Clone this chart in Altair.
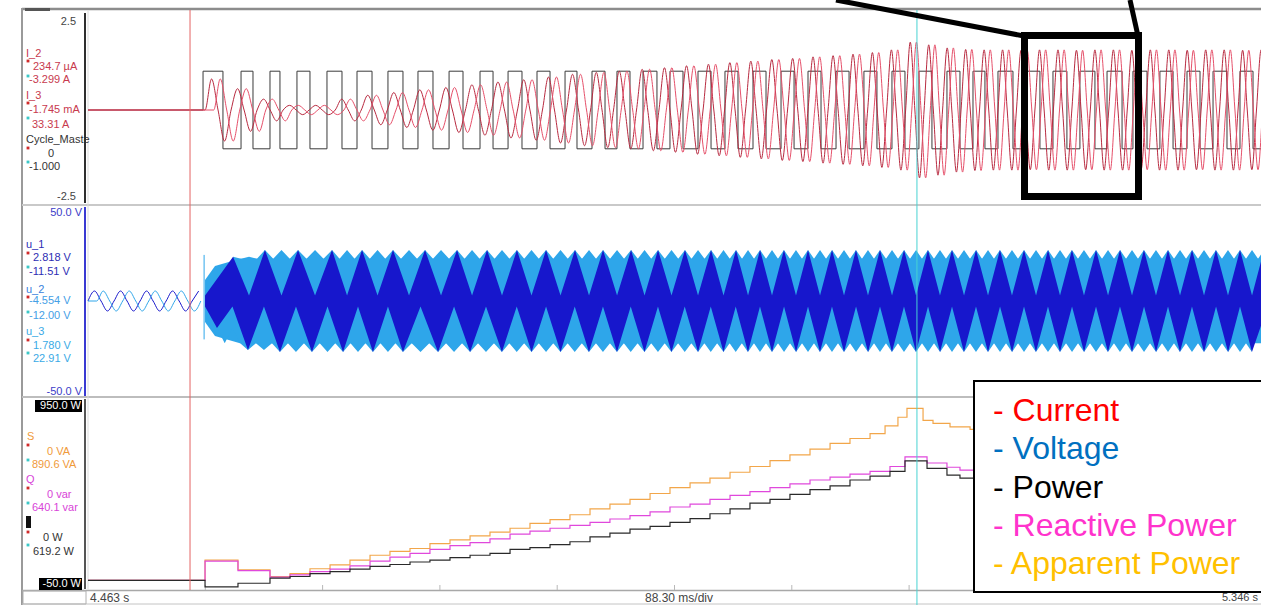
import altair as alt
import pandas as pd

# ===================== DATA =====================
# time is in ms after the left edge of the record (4.463 s); 88.30 ms / div
TIME_LABELS = ["4.463 s", "88.30 ms/div", "5.346 s"]
SPAN_MS = 883.0
DIV_TICKS_MS = [88.3, 176.6, 264.9, 353.2, 441.5, 529.8, 618.1, 706.4, 794.7]
CURSORS_MS = [76.8, 624.0]          # red cursor, cyan cursor

# vertical ranges of the three panels
I_DOMAIN = [-2.5, 2.5]
U_DOMAIN = [-50.0, 50.0]
P_DOMAIN = [-50.0, 950.0]
SCALE_LABELS = ["2.5", "-2.5", "50.0 V", "-50.0 V", "950.0 W", "-50.0 W"]

# channel read-outs (name, value at red cursor, value at cyan cursor)
I_READ = ["I_2", "234.7 µA", "-3.299  A", "I_3", "-1.745 mA", "33.31  A",
          "Cycle_Maste", "0", "-1.000"]
U_READ = ["u_1", "2.818  V", "-11.51  V", "u_2", "-4.554  V", "-12.00  V",
          "u_3", "1.780  V", "22.91  V"]
P_READ = ["S", "0  VA", "890.6  VA", "Q", "0  var", "640.1  var", "0  W", "619.2  W"]

LEGEND_LABELS = ["- Current", "- Voltage", "- Power", "- Reactive Power", "- Apparent Power"]

# Cycle_Master square wave (+1 / -1), edge times in ms
CM_RISE_MS = [86.6, 115.2, 137.0, 157.3, 179.9, 202.5, 225.8, 248.4, 271.8, 295.1,
              316.2, 338.0, 359.1, 379.4, 398.2, 417.8, 438.1, 459.2, 479.5, 500.6,
              521.7, 542.0, 563.1, 584.1, 605.2, 625.5, 646.6, 666.2, 685.0, 706.9,
              726.4, 746.7, 767.1, 786.6, 806.9, 827.3, 846.9, 867.2]
CM_FALL_MS = [101.6, 124.2, 144.5, 167.1, 191.2, 213.8, 237.1, 259.7, 282.3, 304.9,
              326.7, 347.8, 368.1, 389.2, 408.0, 428.3, 447.9, 469.0, 489.3, 510.4,
              531.5, 551.8, 572.9, 593.9, 615.0, 635.3, 656.4, 675.2, 696.3, 716.6,
              736.9, 758.0, 778.4, 797.2, 816.8, 837.1, 857.4, 877.0]
CM_LEVELS = [0.0, 1.0, -1.0]        # idle, high, low

# phase currents I_2 / I_3 : start time, period and peak of every cycle
I_START_MS = 88.1
I_PERIOD_MS = [19.6, 19.6, 19.6, 19.6, 19.6, 19.6, 19.6, 19.6, 19.6, 19.6,
               19.6, 19.6, 18.8, 18.1, 18.1, 17.3, 17.3, 16.9, 16.6, 16.6,
               16.2, 15.8, 15.8, 15.8, 15.4, 15.1, 15.1, 14.7, 14.3, 14.3,
               13.9, 13.9, 13.9, 13.9, 13.9, 13.9, 13.9, 13.9, 13.9, 13.9,
               13.9, 13.9, 13.9, 13.9, 13.9, 13.9, 13.9, 13.9, 13.9, 13.9]
I_PEAK = [0.80, 0.55, 0.28, 0.12, 0.12, 0.28, 0.38, 0.45, 0.52, 0.58,
          0.65, 0.72, 0.78, 0.85, 0.92, 0.97, 1.00, 1.05, 1.09, 1.14,
          1.18, 1.22, 1.26, 1.30, 1.33, 1.37, 1.40, 1.44, 1.48, 1.55,
          1.75, 1.68, 1.60, 1.56, 1.55, 1.55, 1.54, 1.55, 1.55, 1.54,
          1.55, 1.55, 1.54, 1.55, 1.55, 1.54, 1.55, 1.55, 1.54, 1.55]
I3_LAG_CYCLES = 1.0 / 3.0

# voltages before the start: period and peak per cycle
U_PRE_PERIOD_MS = [19.6, 19.6, 19.6, 19.6, 19.6]
U_PRE_PEAK = [5.2, 5.2, 5.2, 5.2, 5.2]
U_START_MS = 88.1
U_SPIKE = [87.4, 24.0, -20.0]        # time, top, bottom of the start transient

# PWM voltage band after the start (light blue body, ramping up at the start)
U_ENV_T_MS = [88.1, 95.6, 114.4, 883.0]
U_ENV_V = [10.9, 18.2, 22.0, 22.0]
U_NOTCH_V = 22.0                     # level of the notches between lobe tips
U_CORE_V = 2.8                       # dark band around zero
# dark blue lobes reaching up / down
U_TOP_APEX_MS = [109.2, 133.2, 158.1, 183.7, 206.3, 229.6, 253.7, 277.8, 300.4, 322.9,
                 344.8, 366.6, 387.7, 408.8, 429.1, 449.4, 469.0, 487.8, 505.9, 523.9,
                 542.0, 560.1, 578.1, 596.2, 614.3, 632.3, 650.4, 668.5, 686.5, 704.6,
                 722.7, 740.7, 758.8, 776.9, 794.9, 813.0, 831.1, 849.1, 867.2, 885.3]
U_TOP_APEX_V = [23.0, 26.6, 26.6, 26.6, 26.6, 26.6, 26.6, 26.6, 26.6, 26.6,
                26.6, 26.6, 26.6, 26.6, 26.6, 26.6, 26.6, 26.6, 26.6, 26.6,
                26.6, 26.6, 26.6, 26.6, 26.6, 26.6, 26.6, 26.6, 26.6, 26.6,
                26.6, 26.6, 26.6, 26.6, 26.6, 26.6, 26.6, 26.6, 26.6, 26.6]
U_BOT_APEX_MS = [97.1, 120.4, 144.5, 168.6, 192.0, 214.5, 237.1, 263.5, 287.6, 311.6,
                 333.9, 355.7, 377.1, 398.2, 418.9, 439.2, 459.2, 478.4, 496.8, 514.9,
                 533.0, 551.0, 569.1, 587.2, 605.2, 623.3, 641.4, 659.4, 677.5, 695.6,
                 713.6, 731.7, 749.8, 767.8, 785.9, 804.0, 822.0, 840.1, 858.2, 876.2]
U_BOT_APEX_V = [-14.0, -25.5, -26.6, -26.6, -26.6, -26.6, -26.6, -26.6, -26.6, -26.6,
                -26.6, -26.6, -26.6, -26.6, -26.6, -26.6, -26.6, -26.6, -26.6, -26.6,
                -26.6, -26.6, -26.6, -26.6, -26.6, -26.6, -26.6, -26.6, -26.6, -26.6,
                -26.6, -26.6, -26.6, -26.6, -26.6, -26.6, -26.6, -26.6, -26.6, -26.6]

# power staircases (step starts in ms, level)
PQ_T_MS = [0, 88.1, 112.9, 137.0, 152.1, 167.1, 182.2, 197.2, 212.3, 227.3,
           242.4, 257.4, 272.5, 287.6, 302.6, 317.7, 332.7, 347.8, 362.8, 377.9,
           392.9, 408.0, 423.1, 438.1, 453.2, 468.2, 483.3, 498.3, 513.4, 528.4,
           543.5, 558.6, 573.6, 588.7, 603.7, 615.0, 631.6, 646.6, 656.4, 686.5]
P_W = [0, -34, -15, 12, 20, 35, 45, 58, 72, 82,
       95, 105, 118, 130, 140, 160, 170, 185, 200, 225,
       245, 265, 280, 300, 320, 345, 370, 400, 420, 445,
       470, 490, 520, 540, 565, 619, 580, 545, 530, 530]
Q_VAR = [0, 100, 50, 17, 28, 45, 58, 75, 100, 120,
         140, 160, 180, 195, 215, 240, 255, 270, 285, 300,
         318, 335, 355, 380, 395, 420, 440, 460, 480, 500,
         520, 535, 550, 565, 590, 640, 608, 586, 571, 571]
S_T_MS = [0, 88.1, 112.9, 137.0, 152.1, 167.1, 182.2, 197.2, 212.3, 227.3,
          242.4, 257.4, 272.5, 287.6, 302.6, 317.7, 332.7, 347.8, 362.8, 377.9,
          392.9, 408.0, 423.1, 438.1, 453.2, 468.2, 483.3, 498.3, 513.4, 528.4,
          543.5, 558.6, 573.6, 588.7, 600.0, 609.7, 616.5, 628.6, 636.1, 648.9,
          664.0, 686.5]
S_VA = [0, 105, 55, 20, 35, 60, 80, 105, 130, 150,
        165, 190, 210, 230, 250, 270, 295, 315, 340, 370,
        395, 420, 450, 480, 505, 530, 560, 590, 620, 650,
        680, 710, 735, 760, 800, 845, 891, 829, 813, 795,
        782, 782]

# ===================== tables built from the values =====================
def wave_rows(start, periods, peaks, lag=0.0):
    rows, t = [], start
    for p, a in zip(periods, peaks):
        for j, v in enumerate((0.0, a, 0.0, -a)):
            rows.append({"t": t + p * (lag + j / 4.0), "v": v})
        t += p
    return rows


def lobe_rows(apex_t, apex_v, core, start, end):
    rows = [{"t": start, "v": core, "b": 0.0}]
    for i, (t, v) in enumerate(zip(apex_t, apex_v)):
        rows.append({"t": t, "v": v, "b": 0.0})
        if i + 1 < len(apex_t):
            rows.append({"t": (t + apex_t[i + 1]) / 2.0, "v": core, "b": 0.0})
    rows.append({"t": end, "v": core, "b": 0.0})
    return rows


def tip_rows(apex_t, apex_v, notch):
    """outer edge of the band: a tip at every dark lobe and between them"""
    tt, tv = [], []
    for i, (t, v) in enumerate(zip(apex_t, apex_v)):
        tt.append(t)
        tv.append(v)
        if i + 1 < len(apex_t):
            tt.append((t + apex_t[i + 1]) / 2.0)
            tv.append(v)
    rows = []
    for i, (t, v) in enumerate(zip(tt, tv)):
        rows.append({"t": t, "v": v, "b": 0.0})
        if i + 1 < len(tt):
            rows.append({"t": (t + tt[i + 1]) / 2.0, "v": notch, "b": 0.0})
    return rows


cm_rows = [{"t": 0.0, "v": CM_LEVELS[0]}]
for r, f in zip(CM_RISE_MS, CM_FALL_MS):
    cm_rows.append({"t": r, "v": CM_LEVELS[1]})
    cm_rows.append({"t": f, "v": CM_LEVELS[2]})
cm_rows.append({"t": SPAN_MS, "v": CM_LEVELS[2]})
cm_df = pd.DataFrame(cm_rows)

i2_df = pd.DataFrame([{"t": 0.0, "v": 0.0}] + wave_rows(I_START_MS, I_PERIOD_MS, I_PEAK))
i3_df = pd.DataFrame([{"t": 0.0, "v": 0.0}] +
                     wave_rows(I_START_MS, I_PERIOD_MS, I_PEAK, I3_LAG_CYCLES))

u1_pre = pd.DataFrame([r for r in wave_rows(0.0, U_PRE_PERIOD_MS, U_PRE_PEAK)
                       if r["t"] <= U_START_MS])
u2_pre = pd.DataFrame([{"t": 0.0, "v": 0.0}] +
                      [r for r in wave_rows(0.0, U_PRE_PERIOD_MS, U_PRE_PEAK, 1.0 / 3.0)
                       if r["t"] <= U_START_MS])
u_env = pd.DataFrame({"t": U_ENV_T_MS, "hi": U_ENV_V, "lo": [-v for v in U_ENV_V]})
u_tip_top = pd.DataFrame(tip_rows(U_TOP_APEX_MS, U_TOP_APEX_V, U_NOTCH_V))
u_tip_bot = pd.DataFrame(tip_rows(U_BOT_APEX_MS, U_BOT_APEX_V, -U_NOTCH_V))
u_top = pd.DataFrame(lobe_rows(U_TOP_APEX_MS, U_TOP_APEX_V, U_CORE_V, U_START_MS, SPAN_MS + 5))
u_bot = pd.DataFrame(lobe_rows(U_BOT_APEX_MS, U_BOT_APEX_V, -U_CORE_V, U_START_MS, SPAN_MS + 5))
u_spike = pd.DataFrame({"t": [U_SPIKE[0]], "v": [U_SPIKE[1]], "v2": [U_SPIKE[2]]})

p_df = pd.DataFrame({"t": PQ_T_MS, "v": P_W})
q_df = pd.DataFrame({"t": PQ_T_MS, "v": Q_VAR})
s_df = pd.DataFrame({"t": S_T_MS, "v": S_VA})
ticks_df = pd.DataFrame({"t": DIV_TICKS_MS})
cursor_red = pd.DataFrame({"t": [CURSORS_MS[0]]})
cursor_cyan = pd.DataFrame({"t": [CURSORS_MS[1]]})
ONE = pd.DataFrame({"k": [0]})

# ===================== layout / style =====================
W, H = 1261, 605
PLOT_X = [88, 1261]
P1_Y = [207, 13]
P2_Y = [397, 205]
P3_Y = [590, 397]
FONT = "Liberation Sans"

C_I2, C_I3 = "#b82a40", "#e6506a"
C_CM = "#3a3a3a"
C_U_DARK, C_U_LIGHT = "#1717cc", "#2ea6ea"
C_S, C_Q, C_P = "#f2a64a", "#e048dc", "#2a2a2a"

X = alt.X("t:Q", scale=alt.Scale(domain=[0, SPAN_MS], range=PLOT_X, nice=False, zero=False),
          axis=None)


def Y(field, domain, rng):
    return alt.Y(field, scale=alt.Scale(domain=domain, range=rng, nice=False, zero=False),
                 axis=None)


def seg(x1, y1, x2, y2, color, w=1.0):
    return alt.Chart(ONE).mark_rule(color=color, strokeWidth=w, strokeCap="butt").encode(
        x=alt.value(x1), y=alt.value(y1), x2=alt.value(x2), y2=alt.value(y2))


def box(x1, y1, x2, y2, fill=None, stroke=None, w=1.0):
    kw = {}
    if fill is not None:
        kw["fill"] = fill
    else:
        kw["fillOpacity"] = 0
    if stroke is not None:
        kw["stroke"] = stroke
        kw["strokeWidth"] = w
    return alt.Chart(ONE).mark_rect(**kw).encode(
        x=alt.value(x1), y=alt.value(y1), x2=alt.value(x2), y2=alt.value(y2))


def label(txt, x, y, color, size=11, align="left", font=FONT):
    return alt.Chart(ONE).mark_text(text=txt, align=align, baseline="middle", fontSize=size,
                                    font=font, color=color).encode(
        x=alt.value(x), y=alt.value(y))


def dot(x, y, color):
    return alt.Chart(ONE).mark_square(size=8, color=color, opacity=1).encode(
        x=alt.value(x), y=alt.value(y))


layers = []

# ---- frame
layers += [
    seg(22, 9, 1261, 9, "#8c8c8c", 2.5),
    seg(22, 8, 22, 605, "#9a9a9a", 2),
    seg(22, 205, 1261, 205, "#c9c9c9", 2),
    seg(22, 397, 1261, 397, "#bdbdbd", 2),
    seg(22, 590.5, 1261, 590.5, "#a8a8a8", 1.5),
    seg(22, 604, 1261, 604, "#c4c4c4", 1),
    seg(88, 11, 88, 590, "#dcdcdc", 1),
    seg(85, 13, 85, 203, "#2e2e2e", 2),
    seg(85, 207, 85, 396, "#3a3ad2", 2),
    seg(85, 399, 85, 589, "#555555", 2),
    box(23, 591, 86, 604, stroke="#b0b0b0", w=1),
    box(25, 8, 50, 11, fill="#555555"),
]

# ---- time axis ticks
layers.append(alt.Chart(ticks_df).mark_rule(color="#b8b8b8", strokeWidth=1).encode(
    x=X, y=alt.value(585), y2=alt.value(590)))

# ---- panel 1 : currents + cycle master
layers.append(alt.Chart(cm_df).mark_line(color=C_CM, strokeWidth=1, interpolate="step-after")
              .encode(x=X, y=Y("v:Q", I_DOMAIN, P1_Y)))
layers.append(alt.Chart(i2_df).mark_line(color=C_I2, strokeWidth=1, interpolate="monotone")
              .encode(x=X, y=Y("v:Q", I_DOMAIN, P1_Y)))
layers.append(alt.Chart(i3_df).mark_line(color=C_I3, strokeWidth=1, interpolate="monotone")
              .encode(x=X, y=Y("v:Q", I_DOMAIN, P1_Y)))

# ---- panel 2 : voltages
layers.append(alt.Chart(u1_pre).mark_line(color=C_U_DARK, strokeWidth=1, interpolate="monotone")
              .encode(x=X, y=Y("v:Q", U_DOMAIN, P2_Y)))
layers.append(alt.Chart(u2_pre).mark_line(color=C_U_LIGHT, strokeWidth=1, interpolate="monotone")
              .encode(x=X, y=Y("v:Q", U_DOMAIN, P2_Y)))
layers.append(alt.Chart(u_env).mark_area(color=C_U_LIGHT, opacity=1)
              .encode(x=X, y=Y("hi:Q", U_DOMAIN, P2_Y), y2="lo:Q"))
for tips in (u_tip_top, u_tip_bot):
    layers.append(alt.Chart(tips).mark_area(color=C_U_LIGHT, opacity=1)
                  .encode(x=X, y=Y("v:Q", U_DOMAIN, P2_Y), y2="b:Q"))
for lobes in (u_top, u_bot):
    layers.append(alt.Chart(lobes).mark_area(color=C_U_DARK, opacity=1)
                  .encode(x=X, y=Y("v:Q", U_DOMAIN, P2_Y), y2="b:Q"))
layers.append(alt.Chart(u_spike).mark_rule(color=C_U_LIGHT, strokeWidth=1)
              .encode(x=X, y=Y("v:Q", U_DOMAIN, P2_Y), y2="v2:Q"))

# ---- panel 3 : powers
for df, col in ((s_df, C_S), (q_df, C_Q), (p_df, C_P)):
    layers.append(alt.Chart(df).mark_line(color=col, strokeWidth=1.2, interpolate="step-after")
                  .encode(x=X, y=Y("v:Q", P_DOMAIN, P3_Y)))

# ---- cursors
layers.append(alt.Chart(cursor_red).mark_rule(color="#e46464", strokeWidth=1).encode(
    x=X, y=alt.value(10), y2=alt.value(590)))
layers.append(alt.Chart(cursor_cyan).mark_rule(color="#48d2d2", strokeWidth=1).encode(
    x=X, y=alt.value(10), y2=alt.value(605)))

# ---- left column : scales and read-outs
C_IL = "#c83a4e"
C_DK = "#333333"
layers += [
    label(SCALE_LABELS[0], 76, 22, "#444444", align="right"),
    label(SCALE_LABELS[1], 76, 197, "#444444", align="right"),
]
i_pos = [(26, 54), (33, 67), (29, 80), (26, 96), (29, 110), (32, 125), (26, 140), (48, 154), (29, 167)]
i_col = [C_IL] * 6 + [C_DK] * 3
for txt, (x, y), c in zip(I_READ, i_pos, i_col):
    layers.append(label(txt, x, y, c))
for y in (61, 103, 148):
    layers.append(dot(28, y, "#d02a2a"))
for y in (76, 118, 162):
    layers.append(dot(28, y, "#3cc8c8"))

C_U1, C_U2, C_U2V, C_U3 = "#2d2db4", "#3a7fdc", "#45a0e6", "#3aaae6"
layers += [
    label(SCALE_LABELS[2], 82, 213, "#3c3cc8", align="right"),
    label(SCALE_LABELS[3], 82, 392, "#3c3cc8", align="right"),
]
u_pos = [(26, 245), (33, 258), (29, 272), (26, 290), (29, 301), (29, 316), (26, 332), (33, 346), (33, 359)]
u_col = [C_U1, C_U1, C_U1, C_U2, C_U2V, C_U2V, C_U3, C_U3, C_U3]
for txt, (x, y), c in zip(U_READ, u_pos, u_col):
    layers.append(label(txt, x, y, c))
for y in (253, 297, 340):
    layers.append(dot(28, y, "#d02a2a"))
for y in (267, 312, 353):
    layers.append(dot(28, y, "#3cc8c8"))

C_SL, C_QL = "#f09a3a", "#d844d8"
layers += [
    box(35, 400, 82, 412, fill="#000000"),
    label(SCALE_LABELS[4], 81, 406, "#ffffff", align="right"),
    box(39, 578, 82, 590, fill="#000000"),
    label(SCALE_LABELS[5], 81, 584, "#ffffff", align="right"),
    box(26, 516, 31, 528, fill="#111111"),
]
p_pos = [(27, 437), (47, 452), (32, 465), (26, 480), (47, 495), (32, 508), (43, 538), (33, 552)]
p_col = [C_SL, C_SL, C_SL, C_QL, C_QL, C_QL, C_DK, C_DK]
for txt, (x, y), c in zip(P_READ, p_pos, p_col):
    layers.append(label(txt, x, y, c))
for y in (445, 488, 532):
    layers.append(dot(28, y, "#d02a2a"))
for y in (460, 503, 545):
    layers.append(dot(28, y, "#3cc8c8"))

# ---- time labels
layers += [
    label(TIME_LABELS[0], 90, 598, "#444444", size=12),
    label(TIME_LABELS[1], 645, 598, "#444444", size=12),
    label(TIME_LABELS[2], 1258, 598, "#444444", size=11, align="right"),
]

# ---- legend box
LEG_COLORS = ["#ff0000", "#0070c0", "#000000", "#ff33cc", "#ffc000"]
layers.append(box(974, 381, 1262, 592, fill="#ffffff", stroke="#000000", w=2))
for i, (txt, c) in enumerate(zip(LEGEND_LABELS, LEG_COLORS)):
    layers.append(label(txt, 993, 411 + i * 38.3, c, size=32))

# ---- zoom annotation
layers += [
    seg(836, 0, 1024, 36, "#000000", 5),
    seg(1130, 0, 1138, 36, "#000000", 5),
    box(1024.5, 35.5, 1138.5, 196.5, stroke="#000000", w=7),
]

chart = (
    alt.layer(*layers)
    .resolve_scale(y="independent")
    .properties(width=W, height=H, padding=0, background="#ffffff",
                autosize=alt.AutoSizeParams(type="none"))
    .configure_view(stroke=None)
)

chart.save("out.html", embed_options={"renderer": "svg", "actions": False})
